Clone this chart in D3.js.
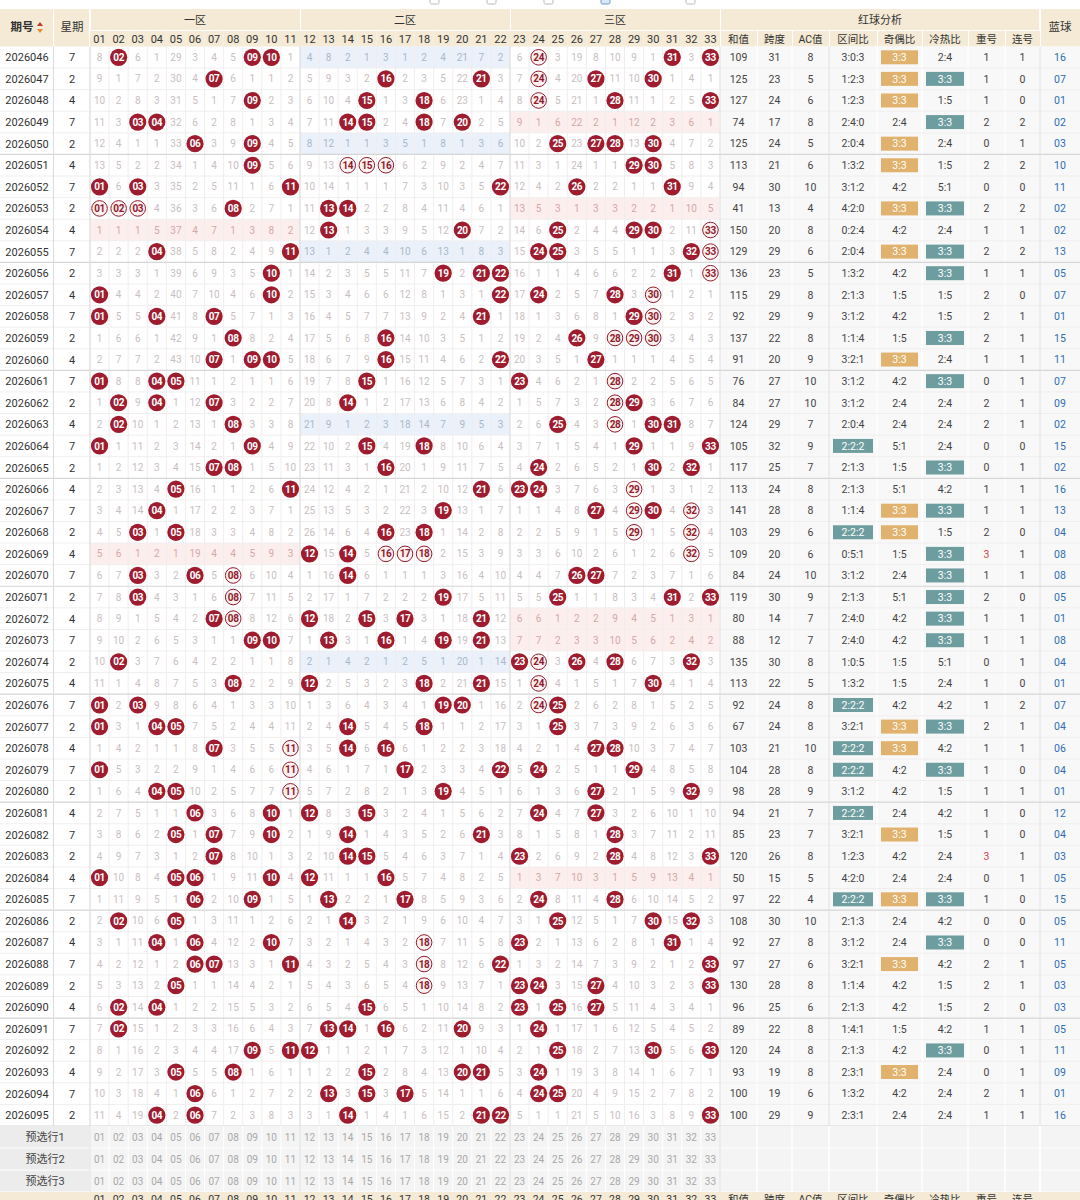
<!DOCTYPE html>
<html><head><meta charset="utf-8">
<script src="https://cdn.jsdelivr.net/npm/d3@7"></script>
<style>
body{margin:0;background:#fff}
svg{display:block}
text{font-family:Roboto,"Noto Sans CJK SC",sans-serif}
</style>
</head><body><svg id="c" width="1080" height="1200"></svg>
<script>
// ---------------- DATA ----------------
const periods = ["2026046","2026047","2026048","2026049","2026050","2026051","2026052","2026053","2026054","2026055",
"2026056","2026057","2026058","2026059","2026060","2026061","2026062","2026063","2026064","2026065",
"2026066","2026067","2026068","2026069","2026070","2026071","2026072","2026073","2026074","2026075",
"2026076","2026077","2026078","2026079","2026080","2026081","2026082","2026083","2026084","2026085",
"2026086","2026087","2026088","2026089","2026090","2026091","2026092","2026093","2026094","2026095"];
const weekdays = [7,2,4,7,2,4,7,2,4,7, 2,4,7,2,4,7,2,4,7,2, 4,7,2,4,7,2,4,7,2,4, 7,2,4,7,2,4,7,2,4,7, 2,4,7,2,4,7,2,4,7,2];
const draws = [
[2,9,10,24,31,33],[7,16,21,24,27,30],[9,15,18,24,28,33],[3,4,14,15,18,20],[6,9,25,27,28,30],
[9,14,15,16,29,30],[1,3,11,22,26,31],[1,2,3,8,13,14],[13,20,25,29,30,33],[4,11,24,25,32,33],
[10,19,21,22,31,33],[1,10,22,24,28,30],[1,4,7,21,29,30],[8,16,26,28,29,30],[7,9,10,16,22,27],
[1,4,5,15,23,28],[2,4,7,14,28,29],[2,8,25,28,30,31],[1,9,15,18,29,33],[7,8,16,24,30,32],
[5,11,21,23,24,29],[4,19,27,29,30,32],[3,5,16,18,29,32],[12,14,16,17,18,32],[3,6,8,14,26,27],
[3,8,19,25,31,33],[7,8,12,15,17,21],[9,10,13,16,19,21],[2,23,24,26,28,32],[8,12,18,21,24,30],
[1,3,19,20,24,25],[1,4,5,14,18,25],[7,11,14,16,27,28],[1,11,17,22,24,29],[4,5,11,19,27,32],
[6,10,12,15,24,27],[5,7,10,14,21,28],[7,14,15,23,28,33],[1,5,6,10,12,16],[6,9,13,17,24,28],
[2,5,14,25,30,32],[4,6,10,18,23,31],[6,7,11,18,22,33],[5,18,23,24,27,33],[2,4,15,23,25,27],
[2,13,14,16,20,24],[9,11,12,25,30,33],[5,8,15,20,21,24],[6,13,15,17,24,25],[4,6,14,21,22,33]];
// balls drawn with an outline instead of a solid fill
const outlined = [[24],[24],[24],[],[],[14,15,16],[],[1,2,3],[33],[33],
[33],[30],[30],[28,29,30],[],[28],[28],[28],[],[],
[29],[29,32],[29,32],[16,17,18,32],[8],[8],[8],[],[24],[24],
[24],[],[11],[11],[11],[],[],[],[],[],
[],[18],[18],[18],[],[],[],[],[],[]];
// omission counts shown in the first row (0 = drawn); later rows follow from the draws
const firstRowMiss = [8,0,6,1,29,3,4,5,0,0,1, 4,8,2,1,3,1,2,4,21,7,2, 6,0,3,19,8,10,9,1,0,3,0];
const sums = [109,125,127,74,125,113,94,41,150,129, 136,115,92,137,91,76,84,124,105,117, 113,141,103,109,84,119,80,88,135,113, 92,67,103,104,98,94,85,120,50,97, 108,92,97,130,96,89,120,93,100,100];
const spans = [31,23,24,17,24,21,30,13,20,29, 23,29,29,22,20,27,27,29,32,25, 24,28,29,20,24,30,14,12,30,22, 24,24,21,28,28,21,23,26,15,22, 30,27,27,28,25,22,24,19,19,29];
const acs = [8,5,6,8,5,6,10,4,8,6, 5,8,9,8,9,10,10,7,9,7, 8,8,6,6,10,9,7,7,8,5, 8,8,10,8,9,7,7,8,5,4, 10,8,6,8,6,8,8,8,6,9];
const zoneRatio = ["3:0:3","1:2:3","1:2:3","2:4:0","2:0:4","1:3:2","3:1:2","4:2:0","0:2:4","2:0:4",
"1:3:2","2:1:3","3:1:2","1:1:4","3:2:1","3:1:2","3:1:2","2:0:4","2:2:2","2:1:3",
"2:1:3","1:1:4","2:2:2","0:5:1","3:1:2","2:1:3","2:4:0","2:4:0","1:0:5","1:3:2",
"2:2:2","3:2:1","2:2:2","2:2:2","3:1:2","2:2:2","3:2:1","1:2:3","4:2:0","2:2:2",
"2:1:3","3:1:2","3:2:1","1:1:4","2:1:3","1:4:1","2:1:3","2:3:1","1:3:2","2:3:1"];
const oddEven = ["3:3","3:3","3:3","2:4","3:3","3:3","4:2","3:3","4:2","3:3",
"4:2","1:5","4:2","1:5","3:3","4:2","2:4","2:4","5:1","1:5",
"5:1","3:3","3:3","1:5","2:4","5:1","4:2","4:2","1:5","1:5",
"4:2","3:3","3:3","4:2","4:2","2:4","3:3","4:2","2:4","3:3",
"2:4","2:4","3:3","4:2","4:2","1:5","4:2","3:3","4:2","2:4"];
const coldHot = ["2:4","3:3","1:5","3:3","2:4","1:5","5:1","3:3","2:4","3:3",
"3:3","1:5","1:5","3:3","2:4","3:3","2:4","2:4","2:4","3:3",
"4:2","3:3","1:5","3:3","3:3","3:3","3:3","3:3","5:1","2:4",
"4:2","3:3","4:2","3:3","1:5","4:2","1:5","2:4","2:4","3:3",
"4:2","3:3","4:2","1:5","1:5","4:2","3:3","2:4","2:4","2:4"];
const repeats = [1,1,1,2,0,2,0,2,1,2, 1,2,2,2,1,0,2,2,0,0, 1,1,2,3,1,2,1,1,0,1, 1,2,1,1,1,1,1,3,0,1, 0,0,2,2,2,1,0,0,2,1];
const consec = [1,0,0,2,1,2,0,2,1,2, 1,0,1,1,1,1,1,1,0,1, 1,1,0,1,1,0,1,1,1,0, 2,1,1,0,1,0,0,1,1,0, 0,0,1,1,0,1,1,1,1,1];
const blues = ["16","07","01","02","03","10","11","02","02","13","05","07","01","15","11","07","09","02","15","02",
"16","13","04","08","08","05","01","08","04","01","07","04","06","04","01","12","04","03","05","15",
"05","11","05","03","03","05","11","09","01","16"];
const zoneNames = ["一区","二区","三区"];
const statHeads = ["和值","跨度","AC值","区间比","奇偶比","冷热比","重号","连号"];
const previewRows = ["预选行1","预选行2","预选行3"];

// ---------------- LAYOUT ----------------
const svg = d3.select("#c");
const fmt = n => String(n).padStart(2,"0");
const nums = d3.range(1,34);
const headTop = 9, headMid = 31, headBot = 46.5, rowH = 21.59;
const bodyBot = headBot + periods.length*rowH;
const x = d3.scaleBand().domain(nums).range([90,720]);
const y = d3.scaleBand().domain(periods).range([headBot, bodyBot]);
const statEdges = [720,757,792,829,877,922,968,1005,1040];
const statX = i => (statEdges[i]+statEdges[i+1])/2;
const blueX0 = 1040, blueX1 = 1080;
const zoneOf = n => n<=11?0:(n<=22?1:2);
const zoneX = z => [x(z*11+1), x(z*11+11)+x.bandwidth()];

// omission matrix
const miss = [];
periods.forEach((p,i)=>{
  const s = new Set(draws[i]);
  miss.push(nums.map((n,j)=> s.has(n)?0:(i===0?firstRowMiss[j]:miss[i-1][j]+1)));
});

// top strip remnants
svg.append("g").selectAll("rect").data([430,487,544,601,686]).join("rect")
  .attr("x",d=>d).attr("y",-4).attr("width",9).attr("height",8).attr("rx",1.5)
  .attr("fill",(d,i)=>i===3?"#dbe8f7":"#ffffff").attr("stroke",(d,i)=>i===3?"#6a9bd8":"#bbb");

// ---------------- HEADER ----------------
const HB = "#f4ead5";
const hdr = svg.append("g");
hdr.append("rect").attr("x",0).attr("y",headTop).attr("width",53).attr("height",headBot-headTop).attr("fill",HB);
hdr.append("rect").attr("x",54).attr("y",headTop).attr("width",35).attr("height",headBot-headTop).attr("fill",HB);
[0,1,2].forEach(z=>{
  const [a,b]=zoneX(z);
  hdr.append("rect").attr("x",a+1).attr("y",headTop).attr("width",b-a-1).attr("height",headMid-headTop-1).attr("fill",HB);
  hdr.append("text").attr("x",(a+b)/2).attr("y",(headTop+headMid)/2+4).attr("text-anchor","middle")
    .attr("font-size",11).attr("fill","#333").text(zoneNames[z]);
});
hdr.selectAll(".hn").data(nums).join("rect").attr("class","hn")
  .attr("x",d=>x(d)).attr("y",headMid).attr("width",x.bandwidth()).attr("height",headBot-headMid).attr("fill",HB);
hdr.selectAll(".ht").data(nums).join("text").attr("class","ht")
  .attr("x",d=>x(d)+x.bandwidth()/2).attr("y",headMid+11.5).attr("text-anchor","middle")
  .attr("font-size",11).attr("fill","#333").text(fmt);
hdr.append("rect").attr("x",721).attr("y",headTop).attr("width",318).attr("height",headMid-headTop-1).attr("fill",HB);
hdr.append("text").attr("x",880).attr("y",(headTop+headMid)/2+4).attr("text-anchor","middle").attr("font-size",11).attr("fill","#333").text("红球分析");
statHeads.forEach((h,i)=>{
  hdr.append("rect").attr("x",statEdges[i]+1).attr("y",headMid).attr("width",statEdges[i+1]-statEdges[i]-1).attr("height",headBot-headMid).attr("fill",HB);
  hdr.append("text").attr("x",statX(i)).attr("y",headMid+11.5).attr("text-anchor","middle").attr("font-size",10.5).attr("fill","#333").text(h);
});
hdr.append("rect").attr("x",blueX0+1).attr("y",headTop).attr("width",blueX1-blueX0-1).attr("height",headBot-headTop).attr("fill",HB);
hdr.append("text").attr("x",1060).attr("y",31).attr("text-anchor","middle").attr("font-size",11.5).attr("fill","#333").text("蓝球");
hdr.append("text").attr("x",22).attr("y",31).attr("text-anchor","middle").attr("font-size",11.5).attr("font-weight","bold").attr("fill","#333").text("期号");
hdr.append("path").attr("d","M37,26 l3,-4 l3,4 z").attr("fill","#c0392b");
hdr.append("path").attr("d","M37,29 l3,4 l3,-4 z").attr("fill","#e6892e");
hdr.append("text").attr("x",72).attr("y",31).attr("text-anchor","middle").attr("font-size",11.5).attr("fill","#333").text("星期");

// ---------------- BODY ----------------
const body = svg.append("g");
body.append("rect").attr("x",720).attr("y",headBot).attr("width",360).attr("height",bodyBot-headBot).attr("fill","#f8f8f8");
// zone shading when a zone has no drawn ball
periods.forEach((p,i)=>{
  [0,1,2].forEach(z=>{
    if(!draws[i].some(n=>zoneOf(n)===z)){
      const [a,b]=zoneX(z);
      body.append("rect").attr("x",a).attr("y",y(p)).attr("width",b-a).attr("height",y.bandwidth())
        .attr("fill", z===1?"#eaf1fa":"#fdeeee");
    }
  });
});
body.selectAll(".vl").data(nums).join("line").attr("class","vl")
  .attr("x1",d=>x(d)).attr("x2",d=>x(d)).attr("y1",headBot).attr("y2",bodyBot).attr("stroke","#f0eded");
statEdges.concat([blueX0]).forEach(e=>{
  body.append("line").attr("x1",e).attr("x2",e).attr("y1",headBot).attr("y2",bodyBot).attr("stroke","#ffffff").attr("stroke-width",1.5);
});
body.selectAll(".hl").data(periods).join("line").attr("class","hl")
  .attr("x1",0).attr("x2",1080).attr("y1",d=>y(d)+y.bandwidth()).attr("y2",d=>y(d)+y.bandwidth())
  .attr("stroke",(d,i)=>(i+1)%5===0?"#d6d6d6":"#f1eeee").attr("stroke-width",(d,i)=>(i+1)%5===0?1.2:1);
[53.5,90,x(12),x(23),720,829,1040].forEach(e=>{
  body.append("line").attr("x1",e).attr("x2",e).attr("y1",headBot).attr("y2",bodyBot).attr("stroke","#dcdcdc");
});

const cy = p => y(p)+y.bandwidth()/2;
body.selectAll(".pt").data(periods).join("text").attr("class","pt")
  .attr("x",27).attr("y",d=>cy(d)+4).attr("text-anchor","middle").attr("font-size",11).attr("fill","#333").text(d=>d);
body.selectAll(".wt").data(periods).join("text").attr("class","wt")
  .attr("x",72).attr("y",d=>cy(d)+4).attr("text-anchor","middle").attr("font-size",11).attr("fill","#333").text((d,i)=>weekdays[i]);

periods.forEach((p,i)=>{
  const g = body.append("g");
  const cells = nums.map((n,j)=>({n, m:miss[i][j], drawn:draws[i].includes(n), ring:outlined[i].includes(n), empty:!draws[i].some(k=>zoneOf(k)===zoneOf(n))}));
  g.selectAll(".m").data(cells.filter(c=>!c.drawn)).join("text").attr("class","m")
    .attr("x",c=>x(c.n)+x.bandwidth()/2).attr("y",cy(p)+3.6).attr("text-anchor","middle").attr("font-size",10)
    .attr("fill",c=>c.empty?(zoneOf(c.n)===1?"#aab8c9":"#d2a8a8"):"#c8c0c0").text(c=>c.m);
  const balls = g.selectAll(".b").data(cells.filter(c=>c.drawn)).join("g").attr("class","b")
    .attr("transform",c=>`translate(${x(c.n)+x.bandwidth()/2},${cy(p)})`);
  balls.append("circle").attr("r",c=>c.ring?7.8:8.6)
    .attr("fill",c=>c.ring?"#fdf1f1":"#9e1c2e").attr("stroke",c=>c.ring?"#8f1b2b":"none").attr("stroke-width",1);
  balls.append("text").attr("y",3.6).attr("text-anchor","middle").attr("font-size",10).attr("font-weight","bold")
    .attr("letter-spacing",-0.4).attr("fill",c=>c.ring?"#8f1b2b":"#fff").text(c=>fmt(c.n));
});

const TAN="#e1b26d", TEAL="#6e9d9f";
function statCol(i, vals, boxWhen, boxColor, color){
  const g = body.append("g");
  const w = statEdges[i+1]-statEdges[i];
  g.selectAll("rect").data(periods.filter((p,k)=>boxWhen && vals[k]===boxWhen)).join("rect")
    .attr("x",statX(i)-w/2+4).attr("width",w-8).attr("y",d=>cy(d)-7).attr("height",14).attr("fill",boxColor);
  g.selectAll("text").data(periods).join("text")
    .attr("x",statX(i)).attr("y",d=>cy(d)+3.8).attr("text-anchor","middle").attr("font-size",10.5)
    .attr("fill",(d,k)=>boxWhen && vals[k]===boxWhen ? "#fff" : (color?color(vals[k]):"#444"))
    .text((d,k)=>vals[k]);
}
statCol(0,sums); statCol(1,spans); statCol(2,acs);
statCol(3,zoneRatio,"2:2:2",TEAL);
statCol(4,oddEven,"3:3",TAN);
statCol(5,coldHot,"3:3",TEAL);
statCol(6,repeats,null,null,v=>v>=3?"#d9414f":"#444");
statCol(7,consec);
body.selectAll(".bl").data(periods).join("text").attr("class","bl")
  .attr("x",1060).attr("y",d=>cy(d)+3.8).attr("text-anchor","middle").attr("font-size",10.5).attr("fill","#2f6db5")
  .text((d,i)=>blues[i]);

// ---------------- PREVIEW ROWS ----------------
const py = d3.scaleBand().domain(previewRows).range([bodyBot, bodyBot+66]);
const pv = svg.append("g");
pv.append("rect").attr("x",0).attr("y",bodyBot).attr("width",1080).attr("height",66).attr("fill","#f4f4f4");
pv.append("rect").attr("x",0).attr("y",bodyBot).attr("width",89).attr("height",66).attr("fill","#ececec");
previewRows.forEach(r=>{
  pv.append("line").attr("x1",0).attr("x2",1080).attr("y1",py(r)+py.bandwidth()).attr("y2",py(r)+py.bandwidth()).attr("stroke","#ffffff");
  pv.append("text").attr("x",45).attr("y",py(r)+py.bandwidth()/2+4).attr("text-anchor","middle").attr("font-size",11).attr("fill","#444").text(r);
  pv.selectAll(null).data(nums).join("text")
    .attr("x",d=>x(d)+x.bandwidth()/2).attr("y",py(r)+py.bandwidth()/2+3.6).attr("text-anchor","middle")
    .attr("font-size",10).attr("fill","#a8a8a8").text(fmt);
});
pv.selectAll(".pvl").data(nums).join("line").attr("class","pvl")
  .attr("x1",d=>x(d)).attr("x2",d=>x(d)).attr("y1",bodyBot).attr("y2",bodyBot+66).attr("stroke","#ffffff");
statEdges.concat([blueX0]).forEach(e=>{
  pv.append("line").attr("x1",e).attr("x2",e).attr("y1",bodyBot).attr("y2",bodyBot+66).attr("stroke","#ffffff").attr("stroke-width",1.5);
});
[90,x(12),x(23),720].forEach(e=>{
  pv.append("line").attr("x1",e).attr("x2",e).attr("y1",bodyBot).attr("y2",bodyBot+66).attr("stroke","#dcdcdc");
});

// ---------------- BOTTOM HEADER (cut off) ----------------
const bt = bodyBot+66;
const bh = svg.append("g");
bh.append("rect").attr("x",0).attr("y",bt).attr("width",1080).attr("height",20).attr("fill",HB);
bh.selectAll(".bn").data(nums).join("text").attr("class","bn")
  .attr("x",d=>x(d)+x.bandwidth()/2).attr("y",bt+11).attr("text-anchor","middle").attr("font-size",10.5).attr("fill","#333").text(fmt);
statHeads.forEach((h,i)=>{
  bh.append("text").attr("x",statX(i)).attr("y",bt+11).attr("text-anchor","middle").attr("font-size",10.5).attr("fill","#333").text(h);
});
</script>
</body></html>
